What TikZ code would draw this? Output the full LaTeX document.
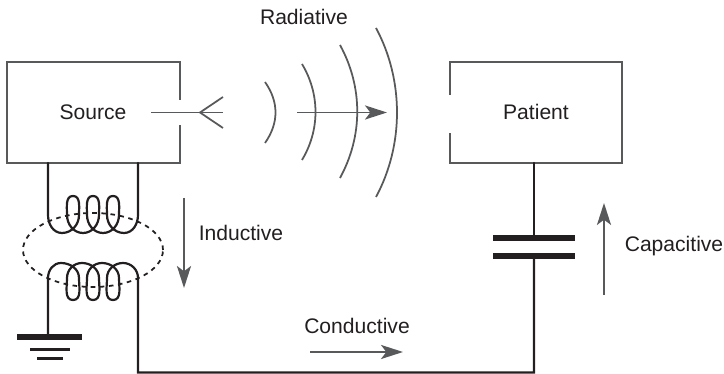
\documentclass[tikz,border=0pt]{standalone}
\usepackage{fontspec}
\setmainfont{Liberation Sans}
\usetikzlibrary{arrows.meta}
\definecolor{linegray}{HTML}{58595B}
\definecolor{wireblack}{HTML}{231F20}

\begin{document}
\begin{tikzpicture}
[x=0.02cm,y=0.02cm,%%%%%%%%%%%%%%%%%%%%%%%%%%%%%%
boxline/.style={draw=linegray,line width=1pt},
wire/.style={draw=wireblack,line width=1.25pt,line cap=round},
plate/.style={draw=wireblack,line width=3.4pt},
flow/.style={draw=linegray,line width=1.1pt,-{Stealth[length=12.5pt,width=8pt,inset=3pt]}},
label/.style={font=\fontsize{12}{14}\selectfont,text=wireblack,inner sep=0pt},
]%%%%%%%%%%%%%%%%%%%%%%%%%%%%%%
\useasboundingbox (0,0) rectangle (724,374);

\node[label] (source) at (93,262){Source};
\node[label] (patient) at (536,262){Patient};
\node[label] (radiative) at (304,357){Radiative};
\node[label] (inductive) at (241,141){Inductive};
\node[label] (conductive) at (357,48){Conductive};
\node[label] (capacitive) at (674,128){Capacitive};

% boxes
\draw[boxline] (180,274) -- (180,312) -- (7,312) -- (7,211) -- (180,211) -- (180,249);
\draw[boxline] (450,279) -- (450,312) -- (622,312) -- (622,211) -- (450,211) -- (450,241);

% antenna
\coordinate (feed) at (151,261.5);
\coordinate (forkmid) at (200,261.5);
\coordinate (forktip) at (223,261.5);
\coordinate (forkup) at (223,277);
\coordinate (forkdown) at (223,246);
\draw[flow,-] (feed) -- (forktip);
\draw[boxline] (forkup) -- (forkmid) -- (forkdown);

% waves
\draw[boxline] (265,292) .. controls (279,272) and (279,251) .. (265,231);
\draw[boxline] (302,310) .. controls (320,280) and (320,244) .. (302,214);
\draw[boxline] (340,329) .. controls (363,287) and (363,238) .. (340,196);
\draw[boxline] (376,346) .. controls (404,294) and (404,229) .. (376,177);
\coordinate (raystart) at (297,261.5);
\coordinate (rayend) at (387,261.5);
\draw[flow] (raystart) -- (rayend);

% coupling
\draw[wireblack,line width=1pt,dash pattern=on 2.6pt off 2.6pt] (93,124) ellipse (70 and 37);

% upper coil
\draw[wire] (48,211) -- (48,159) to[out=-90,in=180] (62,141) to[out=0,in=-90] (79,159)
 to[out=90,in=0] (73,178) to[out=180,in=90] (67,159) to[out=-90,in=180] (83,141)
 to[out=0,in=-90] (99,159) to[out=90,in=0] (93,178) to[out=180,in=90] (87,159)
 to[out=-90,in=180] (103,141) to[out=0,in=-90] (119,159) to[out=90,in=0] (113,178)
 to[out=180,in=90] (107,159) to[out=-90,in=180] (124,141) to[out=0,in=-90] (138,159) -- (138,211);

% lower coil
\coordinate (groundtop) at (48,40);
\coordinate (corner) at (138,1.5);
\coordinate (capbottom) at (534,118);
\coordinate (captop) at (534,136);
\coordinate (patientfoot) at (534,211);
\draw[wire] (groundtop) -- (48,96) to[out=90,in=180] (61,111) to[out=0,in=90] (79,96)
 to[out=-90,in=0] (73,74) to[out=180,in=-90] (67,96) to[out=90,in=180] (82,111)
 to[out=0,in=90] (99,96) to[out=-90,in=0] (93,74) to[out=180,in=-90] (87,96)
 to[out=90,in=180] (102,111) to[out=0,in=90] (119,96) to[out=-90,in=0] (113,74)
 to[out=180,in=-90] (107,96) to[out=90,in=180] (123,111) to[out=0,in=90] (138,96)
 -- (corner) -- (534,1.5) -- (capbottom);

% ground
\draw[plate] (17,37) -- (82,37);
\draw[wireblack,line width=1.9pt] (30,24.5) -- (70,24.5);
\draw[wireblack,line width=1.7pt] (37,15) -- (63,15);

% capacitor
\draw[wire] (patientfoot) -- (captop);
\draw[plate] (493,136) -- (575,136);
\draw[plate] (493,118) -- (575,118);

% arrows
\coordinate (inda) at (184,176);
\coordinate (indb) at (184,86);
\coordinate (capa) at (604,79);
\coordinate (capb) at (604,171);
\coordinate (cona) at (310,22);
\coordinate (conb) at (403,22);
\draw[flow] (inda) -- (indb);
\draw[flow] (capa) -- (capb);
\draw[flow] (cona) -- (conb);
\end{tikzpicture}
\end{document}
